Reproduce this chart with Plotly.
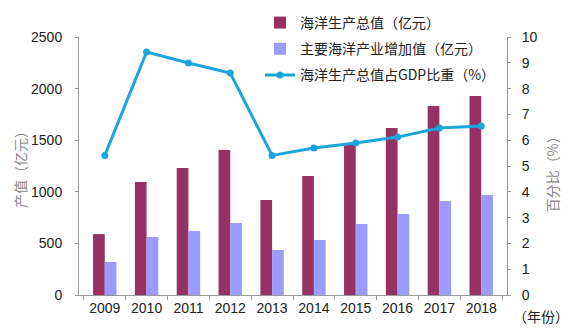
import plotly.graph_objects as go

years = ["2009", "2010", "2011", "2012", "2013", "2014", "2015", "2016", "2017", "2018"]
ocean_output = [590, 1095, 1231, 1405, 920, 1153, 1460, 1618, 1831, 1928]
main_industry = [320, 562, 620, 698, 436, 533, 688, 785, 911, 969]
gdp_share = [5.41, 9.42, 8.99, 8.6, 5.41, 5.7, 5.89, 6.12, 6.47, 6.55]

left_ticks = [0, 500, 1000, 1500, 2000, 2500]
right_ticks = list(range(0, 11))

RED = "#953263"
BLUE = "#9C9CFF"
CYAN = "#1CA5DD"
CJK = "Noto Sans CJK SC"
NUM = "Liberation Sans"

fig = go.Figure()
fig.add_trace(go.Bar(x=years, y=ocean_output, name="海洋生产总值（亿元）",
                     marker=dict(color=RED, line=dict(width=0)), legendgroup="a"))
fig.add_trace(go.Bar(x=years, y=main_industry, name="主要海洋产业增加值（亿元）",
                     marker=dict(color=BLUE, line=dict(width=0)), legendgroup="b"))
fig.add_trace(go.Scatter(x=years, y=gdp_share, name="海洋生产总值占GDP比重（%）", yaxis="y2",
                         mode="lines+markers", line=dict(color=CYAN, width=3),
                         marker=dict(color=CYAN, size=7), legendgroup="c"))

fig.update_layout(
    width=568, height=330,
    margin=dict(l=79, r=61, t=37, b=35, autoexpand=False),
    paper_bgcolor="white", plot_bgcolor="white",
    barmode="group", bargap=0.44, bargroupgap=0,
    font=dict(family=NUM, size=14, color="#222"),
    showlegend=True,
    legend=dict(x=260 / 568, y=1 - 7 / 330, xref="container", yref="container",
                xanchor="left", yanchor="top",
                font=dict(family=CJK, size=14, color="#222"),
                bgcolor="rgba(0,0,0,0)", tracegroupgap=5, itemwidth=30),
    xaxis=dict(type="category", showline=True, linecolor="#9a9a9a", linewidth=1,
               ticks="outside", tickson="boundaries", ticklen=4, tickcolor="#9a9a9a",
               showgrid=False, automargin=False, tickfont=dict(family=NUM, size=14, color="#222")),
    yaxis=dict(range=[0, 2500], tickvals=left_ticks, showline=True, linecolor="#9a9a9a",
               linewidth=1, ticks="outside", ticklen=3, tickcolor="#9a9a9a",
               showgrid=False, zeroline=False, ticklabelstandoff=10, automargin=False,
               tickfont=dict(family=NUM, size=14, color="#222")),
    yaxis2=dict(range=[0, 10], tickvals=right_ticks, overlaying="y", side="right",
                showline=True, linecolor="#9a9a9a", linewidth=1, ticks="outside", ticklen=3,
                tickcolor="#9a9a9a", showgrid=False, zeroline=False, ticklabelstandoff=8,
                automargin=False, tickfont=dict(family=NUM, size=14, color="#222")),
    annotations=[
        dict(text="（年份）", xref="paper", yref="paper", x=1.0, y=0, xanchor="left",
             yanchor="top", xshift=4, yshift=-9, showarrow=False,
             font=dict(family=CJK, size=14, color="#222")),
        dict(text="产值（亿元）", xref="paper", yref="paper", x=0, y=0.5, xshift=-59,
             xanchor="center", yanchor="middle", textangle=-90, showarrow=False,
             font=dict(family=CJK, size=14, color="#888")),
        dict(text="百分比（%）", xref="paper", yref="paper", x=1, y=0.48, xshift=45,
             xanchor="center", yanchor="middle", textangle=-90, showarrow=False,
             font=dict(family=CJK, size=14, color="#888")),
    ],
)

fig.write_html("out.html")
